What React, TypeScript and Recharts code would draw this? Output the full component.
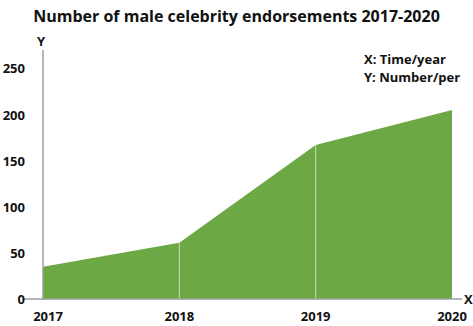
import React from 'react';
import { AreaChart, Area, XAxis, YAxis, ReferenceLine } from 'recharts';

const years = ['2017', '2018', '2019', '2020'];
const endorsements = [35, 61, 167, 205];
const yTicks = [0, 50, 100, 150, 200, 250];

const data = years.map((year, i) => ({ year, count: endorsements[i] }));

const FONT = '"Open Sans", sans-serif';

const YTick = (props: any) => {
  const { x, y, payload } = props;
  return (
    <g>
      {payload.value === 0 && <line x1={x - 12} y1={y} x2={x + 10} y2={y} stroke="#9e9e9e" strokeWidth={1.5} />}
      <text x={x - 10} y={y} dy={5} textAnchor="end" fontFamily={FONT} fontWeight={700} fontSize={13} fill="#111">
        {payload.value}
      </text>
    </g>
  );
};

const XTick = (props: any) => {
  const { x, y, payload, index } = props;
  return (
    <text x={index === 0 ? x + 5 : x} y={y} dy={14} textAnchor="middle" fontFamily={FONT} fontWeight={700} fontSize={13} fill="#111">
      {payload.value}
    </text>
  );
};

const App: React.FC = () => {
  return (
    <div style={{ position: 'absolute', left: 0, top: 0, width: 473, height: 326, background: '#fff', fontFamily: FONT }}>
      <div style={{ position: 'absolute', top: 5, left: 0, width: 473, textAlign: 'center', fontWeight: 700, fontSize: 16, color: '#111' }}>
        Number of male celebrity endorsements 2017-2020
      </div>
      <div style={{ position: 'absolute', left: 364, top: 50, fontWeight: 700, fontSize: 13, lineHeight: '18px', color: '#111' }}>
        X: Time/year<br />Y: Number/per
      </div>
      <div style={{ position: 'absolute', left: 37, top: 32, fontWeight: 700, fontSize: 13, color: '#111' }}>Y</div>
      <div style={{ position: 'absolute', left: 464, top: 290, fontWeight: 700, fontSize: 13, color: '#111' }}>X</div>
      <AreaChart width={473} height={326} data={data} margin={{ top: 50, right: 11, bottom: 0, left: 0 }}>
        <XAxis
          dataKey="year"
          height={27}
          padding={{ left: 0, right: 10 }}
          axisLine={{ stroke: '#9e9e9e', strokeWidth: 1.5 }}
          tickLine={false}
          tick={<XTick />}
        />
        <YAxis
          width={43}
          domain={[0, 270]}
          ticks={yTicks}
          axisLine={{ stroke: '#9e9e9e', strokeWidth: 1.5 }}
          tickLine={false}
          tick={<YTick />}
        />
        <Area
          type="linear"
          dataKey="count"
          stroke="none"
          fill="#6ca844"
          fillOpacity={1}
          isAnimationActive={false}
        />
        {[1, 2].map((i) => (
          <ReferenceLine
            key={years[i]}
            segment={[{ x: years[i], y: 0 }, { x: years[i], y: endorsements[i] }]}
            stroke="#c9dfb8"
            strokeWidth={1}
          />
        ))}
      </AreaChart>
    </div>
  );
};

export default App;
